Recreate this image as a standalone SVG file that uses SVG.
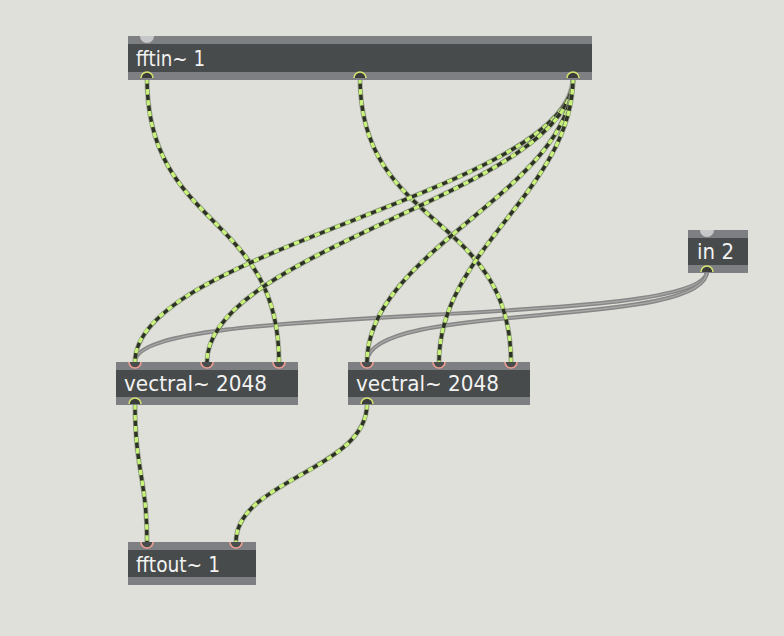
<svg xmlns="http://www.w3.org/2000/svg" width="784" height="636" viewBox="0 0 784 636">
<style>
.stripe{fill:#7e7f83}
.body{fill:#484b4b}
.lbl{font-family:"DejaVu Sans","Liberation Sans",Arial,sans-serif;font-size:22px;fill:#f2f2f2}
.inl{fill:#4a4d4d;stroke:#ef9f92;stroke-width:1.6}
.outl{fill:#3a3d3b;stroke:#d6e36e;stroke-width:1.6}
.gin{fill:#c6c7c9}
.sigA{fill:none;stroke:#8e9585;stroke-width:5;stroke-opacity:0.8}
.sigB{fill:none;stroke:#2c3224;stroke-width:3.4}
.sigC{fill:none;stroke:#c8f27c;stroke-width:3.4;stroke-dasharray:5.5 5.5}
.ctlA{fill:none;stroke:#878787;stroke-width:4.2}
.ctlB{fill:none;stroke:#a9aaa8;stroke-width:1.2}
</style>
<defs>
  <path id="c1" d="M147,78 C147,230 279,212 279,362"/>
  <path id="c2" d="M360,78 C360,230 511,212 511,362"/>
  <path id="c3" d="M573,78 C573,190 135,250 135,362"/>
  <path id="c4" d="M573,78 C573,190 207,250 207,362"/>
  <path id="c5" d="M573,78 C573,190 367,250 367,362"/>
  <path id="c6" d="M573,78 C573,190 439,250 439,362"/>
  <path id="c7" d="M135,404 C135,470 147,480 147,542"/>
  <path id="c8" d="M367,404 C367,470 236,480 236,542"/>
  <path id="g1" d="M707,271 C707,330 135,300 135,362"/>
  <path id="g2" d="M707,271 C707,330 367,300 367,362"/>
</defs>
<rect width="784" height="636" fill="#dfe0da"/>
<g id="connectors">
  <use href="#g1" class="ctlA"/><use href="#g1" class="ctlB"/>
  <use href="#g2" class="ctlA"/><use href="#g2" class="ctlB"/>
  <use href="#c1" class="sigA"/><use href="#c1" class="sigB"/><use href="#c1" class="sigC"/>
  <use href="#c2" class="sigA"/><use href="#c2" class="sigB"/><use href="#c2" class="sigC"/>
  <use href="#c3" class="sigA"/><use href="#c3" class="sigB"/><use href="#c3" class="sigC"/>
  <use href="#c4" class="sigA"/><use href="#c4" class="sigB"/><use href="#c4" class="sigC"/>
  <use href="#c5" class="sigA"/><use href="#c5" class="sigB"/><use href="#c5" class="sigC"/>
  <use href="#c6" class="sigA"/><use href="#c6" class="sigB"/><use href="#c6" class="sigC"/>
  <use href="#c7" class="sigA"/><use href="#c7" class="sigB"/><use href="#c7" class="sigC"/>
  <use href="#c8" class="sigA"/><use href="#c8" class="sigB"/><use href="#c8" class="sigC"/>
</g>
<g id="fftin">
  <rect class="stripe" x="128" y="36" width="464" height="44"/>
  <rect class="body" x="128" y="44" width="464" height="28"/>
  <path class="gin" d="M140,36 A7,7 0 0 0 154,36 Z"/>
  <path class="outl" d="M141,78 A6,6 0 0 1 153,78"/>
  <path class="outl" d="M354,78 A6,6 0 0 1 366,78"/>
  <path class="outl" d="M567,78 A6,6 0 0 1 579,78"/>
  <text class="lbl" x="136" y="66" textLength="69" lengthAdjust="spacingAndGlyphs">fftin~ 1</text>
</g>
<g id="in2">
  <rect class="stripe" x="688" y="230" width="60" height="43"/>
  <rect class="body" x="688" y="238" width="60" height="27"/>
  <path class="gin" d="M700,230 A7,7 0 0 0 714,230 Z"/>
  <path class="outl" d="M701,272 A6,6 0 0 1 713,272"/>
  <text class="lbl" x="697" y="259" textLength="37" lengthAdjust="spacingAndGlyphs">in 2</text>
</g>
<g id="vectral1">
  <rect class="stripe" x="116" y="362" width="182" height="43"/>
  <rect class="body" x="116" y="370" width="182" height="27"/>
  <path class="inl" d="M129,362 A6,6 0 0 0 141,362"/>
  <path class="inl" d="M201,362 A6,6 0 0 0 213,362"/>
  <path class="inl" d="M273,362 A6,6 0 0 0 285,362"/>
  <path class="outl" d="M129,404 A6,6 0 0 1 141,404"/>
  <text class="lbl" x="124" y="391" textLength="143" lengthAdjust="spacingAndGlyphs">vectral~ 2048</text>
</g>
<g id="vectral2">
  <rect class="stripe" x="348" y="362" width="182" height="43"/>
  <rect class="body" x="348" y="370" width="182" height="27"/>
  <path class="inl" d="M361,362 A6,6 0 0 0 373,362"/>
  <path class="inl" d="M433,362 A6,6 0 0 0 445,362"/>
  <path class="inl" d="M505,362 A6,6 0 0 0 517,362"/>
  <path class="outl" d="M361,404 A6,6 0 0 1 373,404"/>
  <text class="lbl" x="356" y="391" textLength="143" lengthAdjust="spacingAndGlyphs">vectral~ 2048</text>
</g>
<g id="fftout">
  <rect class="stripe" x="128" y="542" width="128" height="43"/>
  <rect class="body" x="128" y="550" width="128" height="27"/>
  <path class="inl" d="M141,542 A6,6 0 0 0 153,542"/>
  <path class="inl" d="M230,542 A6,6 0 0 0 242,542"/>
  <text class="lbl" x="136" y="572" textLength="84" lengthAdjust="spacingAndGlyphs">fftout~ 1</text>
</g>
</svg>
